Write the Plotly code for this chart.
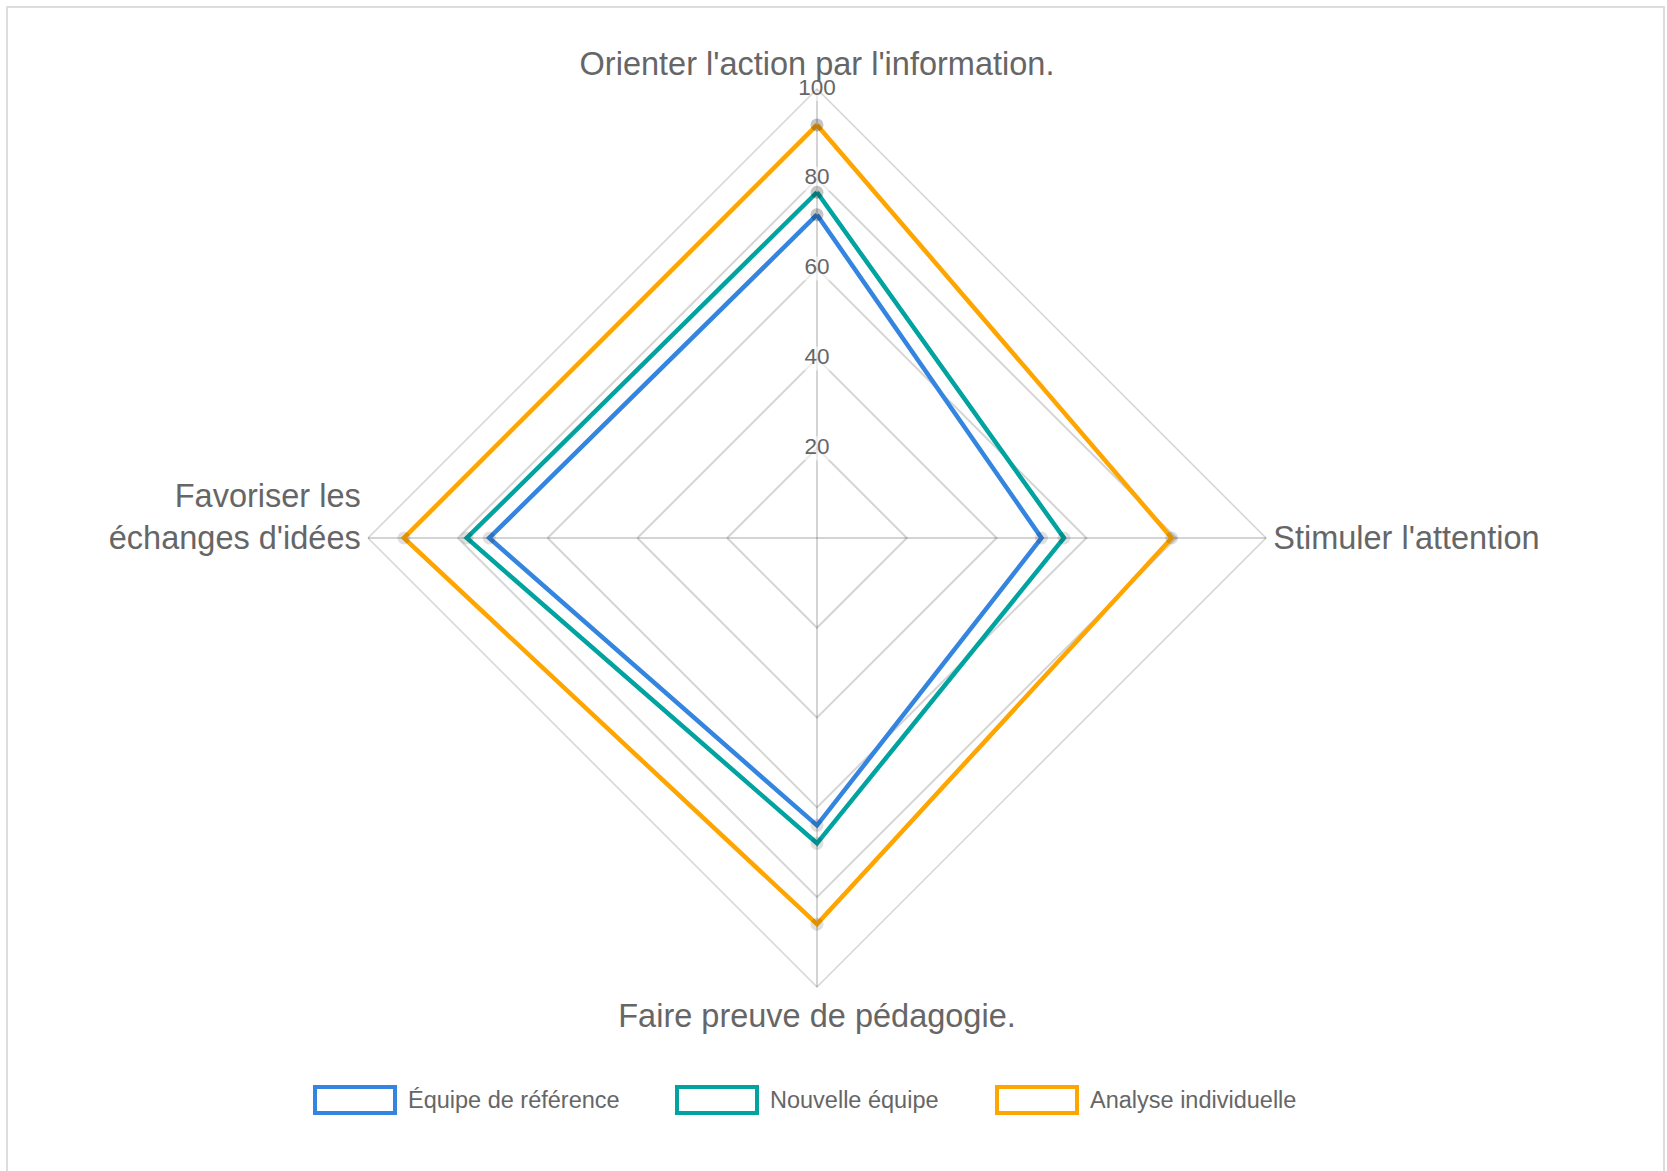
import plotly.graph_objects as go

# Competency axes (clockwise from top)
categories = [
    "Orienter l'action par l'information.",
    "Stimuler l'attention",
    "Faire preuve de pédagogie.",
    "Favoriser les<br>échanges d'idées<br> ",
]

series_names = ["Équipe de référence", "Nouvelle équipe", "Analyse individuelle"]
series_colors = ["#3385E0", "#00A3A0", "#FFA500"]

reference_team = [72, 50, 64, 73]
new_team = [77, 55, 68, 78]
individual = [92, 79, 86, 92]
series_values = [reference_team, new_team, individual]

radial_ticks = [20, 40, 60, 80, 100]

FONT = "Liberation Sans, Arial, Helvetica, sans-serif"
TEXT_COLOR = "#666666"
GRID_COLOR = "rgba(0,0,0,0.17)"

W, H = 1667, 1171
cx, cy, rad = 817, 538, 449

fig = go.Figure()

# Tick labels along the top spoke, with a translucent white backdrop
tick_theta = [categories[0]] * len(radial_ticks)
fig.add_trace(go.Scatterpolar(
    r=radial_ticks, theta=tick_theta, mode="markers",
    marker=dict(symbol="line-ew", size=[13 * len(str(t)) + 4 for t in radial_ticks],
                line=dict(width=24, color="rgba(255,255,255,0.8)")),
    hoverinfo="skip", showlegend=False,
))
fig.add_trace(go.Scatterpolar(
    r=radial_ticks, theta=tick_theta, mode="text",
    text=[str(t) for t in radial_ticks], textposition="middle center",
    textfont=dict(family=FONT, size=22.5, color=TEXT_COLOR),
    hoverinfo="skip", showlegend=False,
))

for name, color, vals in zip(series_names, series_colors, series_values):
    fig.add_trace(go.Scatterpolar(
        r=vals + vals[:1], theta=categories + categories[:1],
        mode="lines+markers", name=name,
        line=dict(color=color, width=4.5),
        marker=dict(size=13, color="rgba(0,0,0,0.12)", line=dict(width=0)),
        showlegend=False,
    ))

fig.update_layout(
    width=W, height=H,
    margin=dict(l=0, r=0, t=0, b=0),
    paper_bgcolor="white",
    font=dict(family=FONT, color=TEXT_COLOR),
    polar=dict(
        domain=dict(x=[(cx - rad) / W, (cx + rad) / W],
                    y=[(H - cy - rad) / H, (H - cy + rad) / H]),
        bgcolor="white",
        gridshape="linear",
        radialaxis=dict(range=[0, 100], tickvals=radial_ticks, showticklabels=False,
                        ticks="", showline=False, gridcolor=GRID_COLOR, gridwidth=1.5),
        angularaxis=dict(rotation=90, direction="clockwise", ticks="",
                         showline=True, linecolor=GRID_COLOR, linewidth=1.5,
                         gridcolor=GRID_COLOR, gridwidth=1.5,
                         tickfont=dict(family=FONT, size=32.5, color=TEXT_COLOR)),
    ),
)

# Legend drawn as outlined boxes with labels beneath the chart
legend_x = [315, 677, 997]
box_w, box_h, legend_y = 80, 26, 1100
for x0, name, color in zip(legend_x, series_names, series_colors):
    fig.add_shape(type="rect", xref="paper", yref="paper",
                  x0=x0 / W, x1=(x0 + box_w) / W,
                  y0=(H - legend_y - box_h / 2) / H, y1=(H - legend_y + box_h / 2) / H,
                  line=dict(color=color, width=4), fillcolor="white")
    fig.add_annotation(xref="paper", yref="paper", x=(x0 + box_w + 11) / W,
                       y=(H - legend_y) / H, xanchor="left", yanchor="middle",
                       text=name, showarrow=False,
                       font=dict(family=FONT, size=23.5, color=TEXT_COLOR))

# Card border
fig.add_shape(type="rect", xref="paper", yref="paper",
              x0=7 / W, x1=(W - 3) / W, y0=-0.05, y1=(H - 7) / H,
              line=dict(color="#dddddd", width=2), layer="below")

fig.write_html("out.html")
